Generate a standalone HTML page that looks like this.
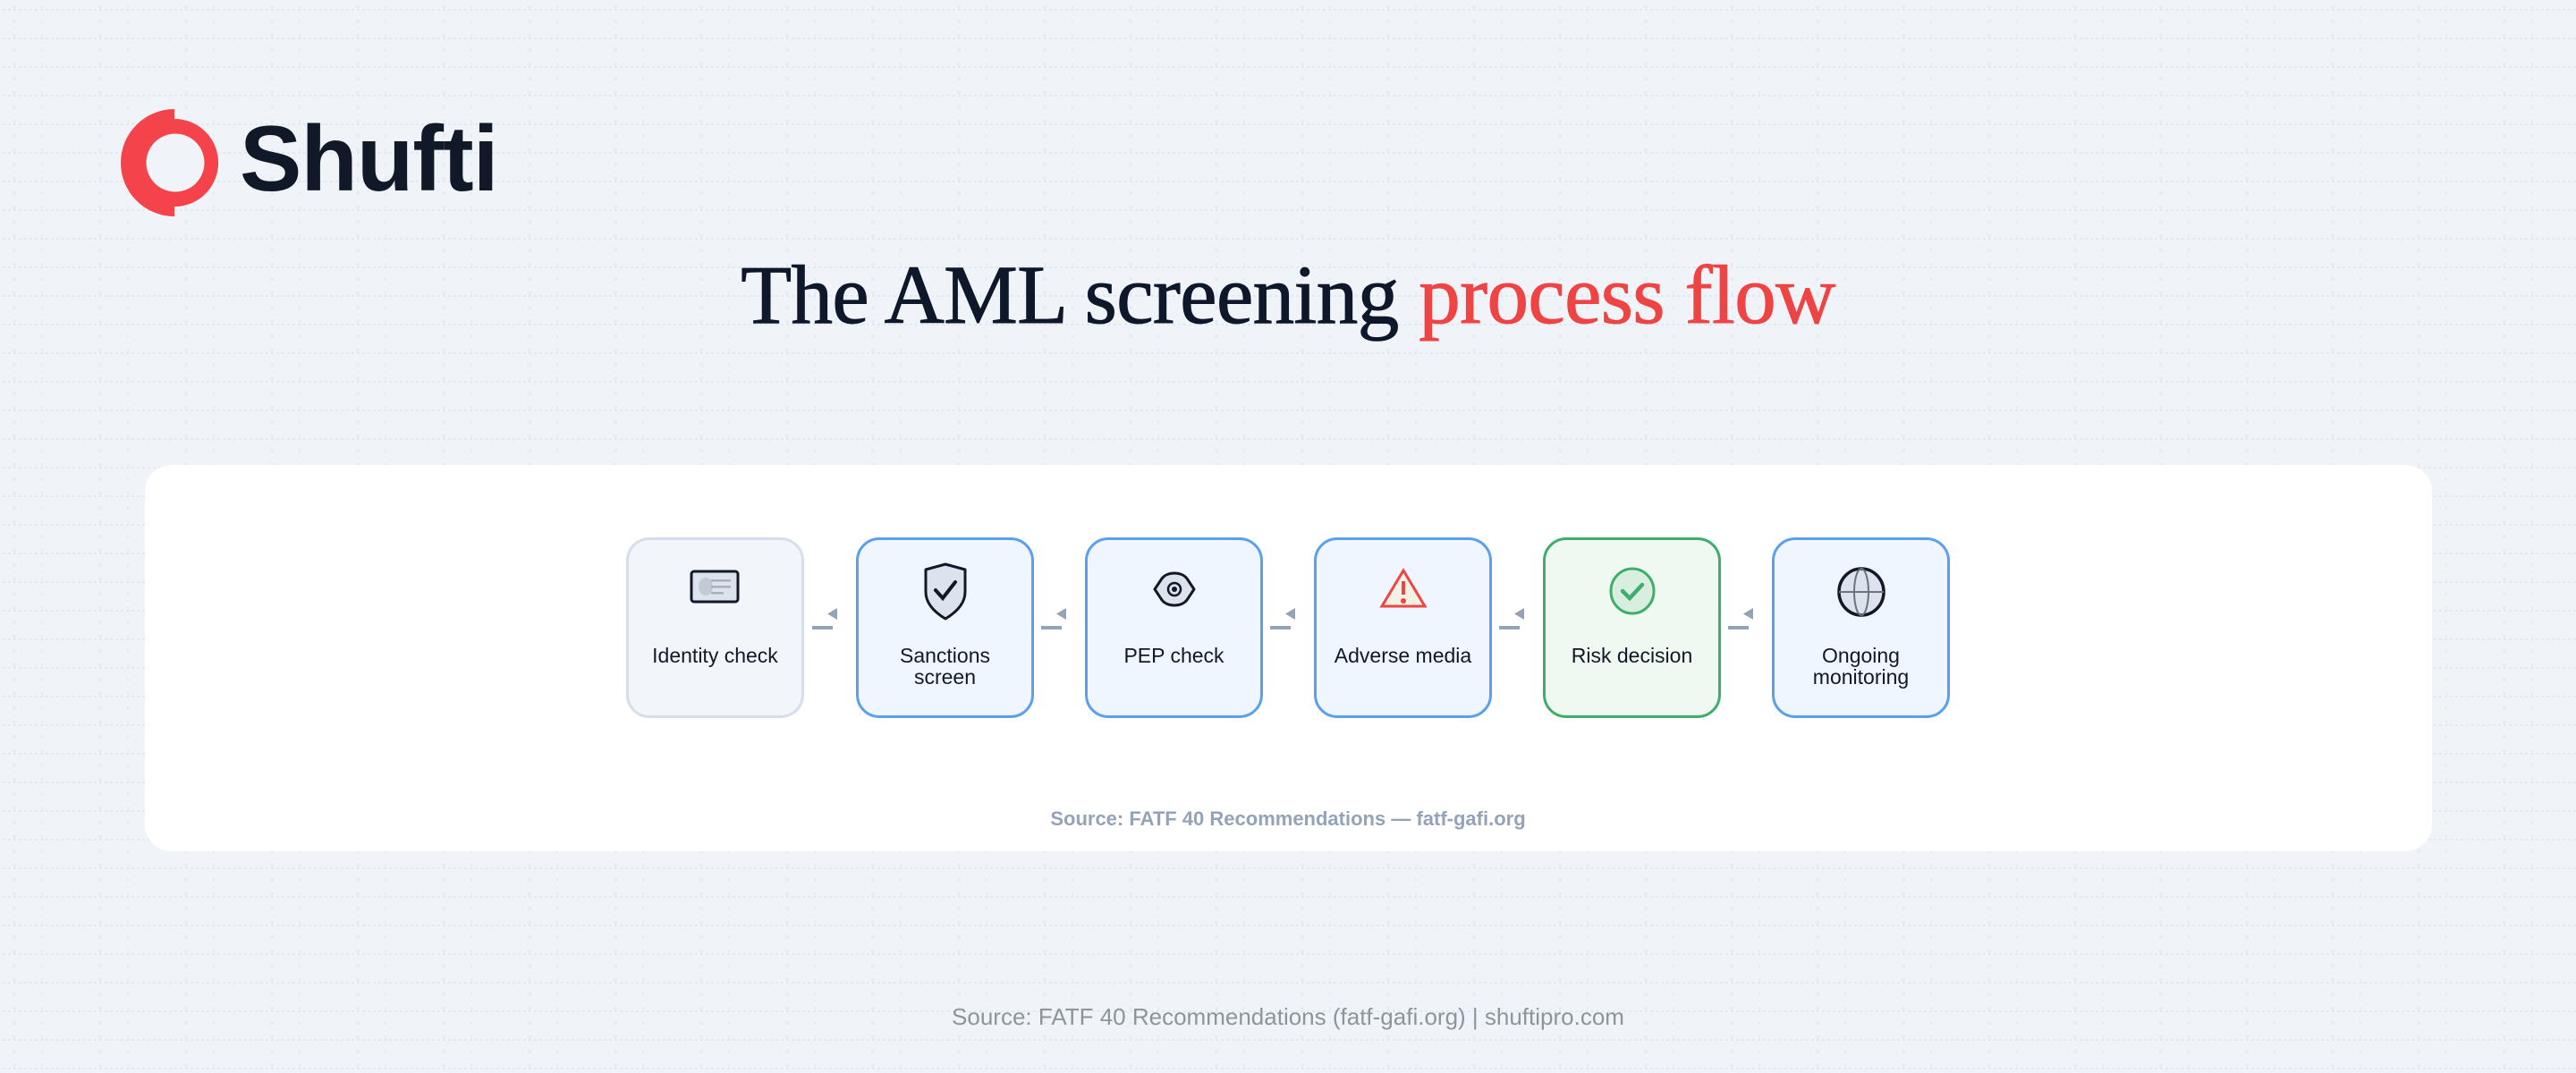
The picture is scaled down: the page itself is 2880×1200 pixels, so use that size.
<!DOCTYPE html>
<html><head><meta charset="utf-8"><style>
*{margin:0;padding:0;box-sizing:border-box}
body{width:2880px;height:1200px;overflow:hidden;position:relative;font-family:"Liberation Sans",sans-serif;
background-color:#f0f4f9;
background-image:
 repeating-linear-gradient(90deg, rgba(240,244,249,1) 0 3px, rgba(240,244,249,0) 3px 6px),
 linear-gradient(#e3e9f1 2px, transparent 2px),
 radial-gradient(circle, #e3e9f1 1.5px, transparent 2px);
background-size:6px 32px,32px 32px,32px 16px;
background-position:0 0,0 10px,0 0;}
.logo{position:absolute;left:134px;top:122px}
.brand{position:absolute;left:268px;top:118px;font-weight:bold;font-size:104px;color:#111827;letter-spacing:-1px;line-height:120px}
.title{position:absolute;left:0;width:2880px;top:276px;text-align:center;font-family:"Liberation Serif",serif;font-size:93px;color:#0f172a;letter-spacing:-0.6px;line-height:110px;-webkit-text-stroke:1px currentColor}
.title span{color:#ef4444}
.card{position:absolute;left:162px;top:520px;width:2557px;height:432px;background:#fff;border-radius:30px}
.box{position:absolute;top:601px;width:199px;height:202px;border:3px solid #5aa0ee;background:#eff6ff;border-radius:26px}
.box svg{position:absolute;left:50%;top:30px;transform:translateX(-50%)}
.lbl{position:absolute;left:0;right:0;top:117px;text-align:center;font-size:23px;font-weight:500;color:#111827;line-height:24px}
.lbl.one{top:117px}
.lbl.two{top:117px}
.conn{position:absolute;top:680px}
.src{position:absolute;left:0;width:2880px;top:903px;text-align:center;font-size:22px;color:#94a3b8;font-weight:bold}
.foot{position:absolute;left:0;width:2880px;top:1122px;text-align:center;font-size:26px;color:#8f949c}
</style></head><body>
<svg class="logo" width="120" height="122" viewBox="0 0 120 122">
<path d="M61 0 A60 60 0 0 0 61 120 L61 109 A49 49 0 0 0 61 11 Z" fill="#f4434b"/>
<path d="M61 11 A49 49 0 0 1 61 109 L61 60 Z" fill="#f4434b"/>
<circle cx="62" cy="60" r="32.5" fill="#f0f4f9"/>
</svg>
<div class="brand">Shufti</div>
<div class="title">The AML screening <span>process flow</span></div>
<div class="card"></div>

<div class="box" style="left:700px;border-color:#d5dee9;background:#f2f6fa">
<svg width="60" height="44" viewBox="0 0 60 44"><rect x="3" y="5" width="52" height="34" rx="3" fill="#dde3ec" stroke="#111827" stroke-width="3"/><ellipse cx="19" cy="22" rx="8" ry="10" fill="#c3cad6"/><rect x="25" y="14" width="22" height="2.5" fill="#a8b1be"/><rect x="25" y="21" width="22" height="2.5" fill="#a8b1be"/><rect x="25" y="28" width="14" height="2.5" fill="#a8b1be"/></svg>
<div class="lbl one">Identity check</div></div>

<div class="box" style="left:957px">
<svg width="60" height="66" viewBox="0 0 60 66" style="top:24px"><path d="M30 3 L52 9 V34 C52 48 40 58 30 64 C20 58 8 48 8 34 V9 Z" fill="#dde3ec" stroke="#111827" stroke-width="3" stroke-linejoin="round"/><path d="M19 32 L27 41 L41 23" fill="none" stroke="#111827" stroke-width="4" stroke-linecap="round"/></svg>
<div class="lbl two">Sanctions<br>screen</div></div>

<div class="box" style="left:1213px">
<svg width="60" height="50" viewBox="0 0 60 50"><path d="M8 25 L16 13 C22 5 38 5 44 13 L52 25 L44 37 C38 45 22 45 16 37 Z" fill="#dde3ec" stroke="#111827" stroke-width="3" stroke-linejoin="round"/><circle cx="30" cy="25" r="7" fill="none" stroke="#111827" stroke-width="2.5"/><circle cx="30" cy="25" r="3" fill="#111827"/></svg>
<div class="lbl one">PEP check</div></div>

<div class="box" style="left:1469px">
<svg width="60" height="50" viewBox="0 0 60 50"><path d="M30 4 L54 44 H6 Z" fill="#f3f1e4" stroke="#ef4444" stroke-width="3" stroke-linejoin="miter"/><rect x="28" y="16" width="4" height="15" fill="#ef4444"/><circle cx="30" cy="38" r="3" fill="#ef4444"/></svg>
<div class="lbl one">Adverse media</div></div>

<div class="box" style="left:1725px;border-color:#3dae6b;background:#eff8f1">
<svg width="60" height="54" viewBox="0 0 60 54"><ellipse cx="30" cy="27" rx="24" ry="25" fill="#d8efe0" stroke="#3dae6b" stroke-width="3"/><path d="M19 27 L27 35 L41 20" fill="none" stroke="#3dae6b" stroke-width="4.5" stroke-linecap="round"/></svg>
<div class="lbl one">Risk decision</div></div>

<div class="box" style="left:1981px">
<svg width="60" height="56" viewBox="0 0 60 56"><ellipse cx="30" cy="28" rx="25" ry="26" fill="#dde3ec" stroke="#111827" stroke-width="3.5"/><ellipse cx="30" cy="28" rx="8" ry="26" fill="none" stroke="#6b7280" stroke-width="2"/><line x1="5" y1="28" x2="55" y2="28" stroke="#6b7280" stroke-width="2"/></svg>
<div class="lbl two">Ongoing<br>monitoring</div></div>

<svg class="conn" width="2880" height="30" style="left:0" viewBox="0 0 2880 30">
<g fill="#94a3b8">
<rect x="908" y="20" width="23" height="4"/><path d="M936 0 V13 L925 6.5 Z"/>
<rect x="1164" y="20" width="23" height="4"/><path d="M1192 0 V13 L1181 6.5 Z"/>
<rect x="1420" y="20" width="23" height="4"/><path d="M1448 0 V13 L1437 6.5 Z"/>
<rect x="1676" y="20" width="23" height="4"/><path d="M1704 0 V13 L1693 6.5 Z"/>
<rect x="1932" y="20" width="23" height="4"/><path d="M1960 0 V13 L1949 6.5 Z"/>
</g></svg>

<div class="src">Source: FATF 40 Recommendations — fatf-gafi.org</div>
<div class="foot">Source: FATF 40 Recommendations (fatf-gafi.org) | shuftipro.com</div>
</body></html>
